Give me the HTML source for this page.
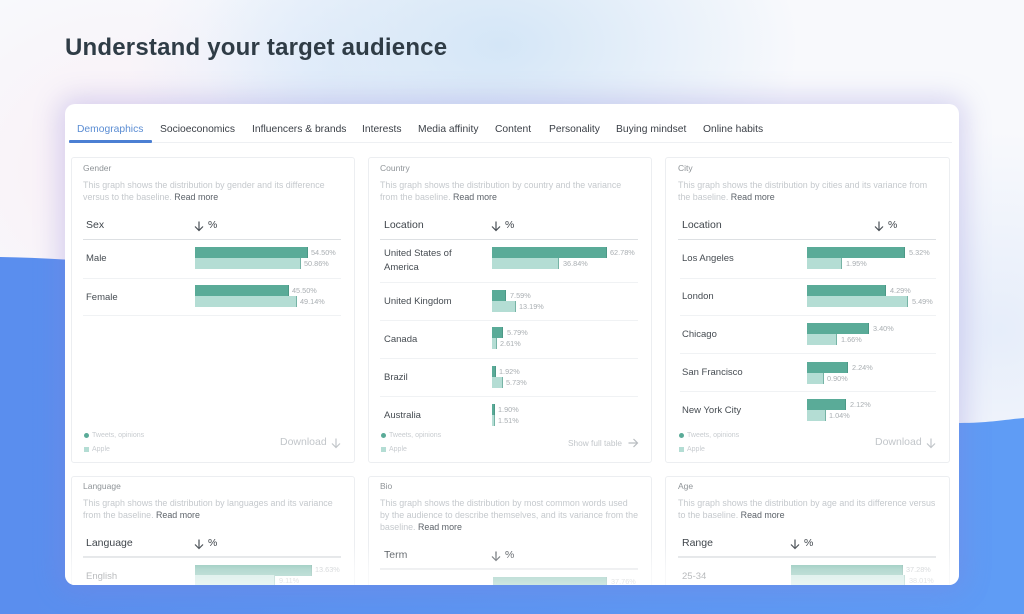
<!DOCTYPE html>
<html><head><meta charset="utf-8">
<style>
*{margin:0;padding:0;box-sizing:border-box}
html,body{width:1024px;height:614px;overflow:hidden}
body{position:relative;font-family:"Liberation Sans",sans-serif;background:#f8f9fc;
background-image:
radial-gradient(ellipse 300px 190px at 500px 45px,#d4e6f7 0%,rgba(212,230,247,0) 100%),
radial-gradient(ellipse 200px 150px at 330px 70px,rgba(225,235,250,0.8) 0%,rgba(225,235,250,0) 100%),
radial-gradient(ellipse 220px 200px at 120px 170px,rgba(250,236,244,0.8) 0%,rgba(250,236,244,0) 100%),
radial-gradient(ellipse 200px 200px at 1000px 330px,rgba(228,236,250,0.9) 0%,rgba(228,236,250,0) 100%);}
.t{position:absolute;white-space:nowrap;line-height:1}
.panel{position:absolute;left:65px;top:104px;width:894px;height:481px;border-radius:10px;background:#fff;box-shadow:0 0 26px 6px rgba(135,125,215,0.3)}
.clip{position:absolute;left:0;top:0;width:1024px;height:614px;overflow:hidden;clip-path:inset(104px 65px 29px 65px round 10px)}
.card{position:absolute;background:#fff;border:1px solid #eceef1;border-radius:3px}
.ct{font-size:8.5px;color:#8f9498}
.ds{font-size:8.9px;color:#c5c9cd;margin-top:-0.3px}
.rm{color:#5d636a}
.hd{font-size:10.5px;color:#3f454b;margin-top:1.5px}
.rl{font-size:9.5px;color:#464c52;margin-top:1px}
.hl{position:absolute;height:1.5px;background:#dde0e3}
.sp{position:absolute;height:1px;background:#f0f2f4}
.d{position:absolute;height:11px;background:#5aab98;border-right:1px solid #4c9886}
.l{position:absolute;height:10.5px;background:#b4ddd4;border-right:1.5px solid #76b3a5}
.v{font-size:7.3px;color:#a9aeb2}
.lg{font-size:7px;color:#c8ccd0}
.dot{position:absolute;width:5px;height:5px;border-radius:50%;background:#5aab98}
.sq{position:absolute;width:5px;height:5px;background:#b4ddd4}
.dl{font-size:10.5px;color:#c2c6ca;margin-top:0.5px}
.tab{font-size:10.3px;color:#3a3f46;top:124.5px}
.ar{margin-top:1.5px}
</style></head><body>
<svg width="1024" height="614" style="position:absolute;left:0;top:0">
<defs><linearGradient id="bg" x1="0" y1="0" x2="1" y2="0"><stop offset="0" stop-color="#5a8eee"/><stop offset="1" stop-color="#5f9cf5"/></linearGradient></defs>
<path d="M0,257 C350,262 700,420 960,423 C990,423 1010,419 1024,418 L1024,614 L0,614 Z" fill="url(#bg)"/>
</svg>

<div class="t" style="left:65px;top:36px;font-size:24px;font-weight:bold;color:#2f3c46;letter-spacing:0.2px">Understand your target audience</div>

<div class="panel"></div>
<div class="clip">
<!-- tabs -->
<div class="t tab" style="left:77px;color:#5b8dd3">Demographics</div>
<div class="t tab" style="left:160px">Socioeconomics</div>
<div class="t tab" style="left:252px">Influencers &amp; brands</div>
<div class="t tab" style="left:362px">Interests</div>
<div class="t tab" style="left:418px">Media affinity</div>
<div class="t tab" style="left:495px">Content</div>
<div class="t tab" style="left:549px">Personality</div>
<div class="t tab" style="left:616px">Buying mindset</div>
<div class="t tab" style="left:703px">Online habits</div>
<div style="position:absolute;left:69px;top:141.5px;width:883px;height:1px;background:#eef0f3"></div>
<div style="position:absolute;left:69px;top:140px;width:83px;height:2.5px;background:#4b7fd3;border-radius:1px"></div>

<!-- cards -->
<div class="card" style="left:71px;top:157px;width:284px;height:306px"></div>
<div class="card" style="left:368px;top:157px;width:284px;height:306px"></div>
<div class="card" style="left:665px;top:157px;width:285px;height:306px"></div>
<div class="card" style="left:71px;top:476px;width:284px;height:120px"></div>
<div class="card" style="left:368px;top:476px;width:284px;height:120px"></div>
<div class="card" style="left:665px;top:476px;width:285px;height:120px"></div>

<!-- ===== Gender ===== -->
<div class="t ct" style="left:83px;top:163.5px">Gender</div>
<div class="t ds" style="left:83px;top:180.8px">This graph shows the distribution by gender and its difference</div>
<div class="t ds" style="left:83px;top:192.8px">versus to the baseline. <span class="rm">Read more</span></div>
<div class="t hd" style="left:86px;top:218.4px">Sex</div>
<svg class="ar" style="position:absolute;left:194px;top:219px" width="10" height="11"><path d="M5,0.5 V9.5 M1,5.5 L5,9.5 L9,5.5" fill="none" stroke="#4a5056" stroke-width="1.2"/></svg>
<div class="t hd" style="left:208px;top:218.4px">%</div>
<div class="hl" style="left:83px;top:238.5px;width:258px"></div>
<div class="t rl" style="left:86px;top:253px">Male</div>
<div class="d" style="left:195px;top:247px;width:113px"></div>
<div class="l" style="left:195px;top:258px;width:106px"></div>
<div class="t v" style="left:311px;top:249px">54.50%</div>
<div class="t v" style="left:304px;top:260px">50.86%</div>
<div class="sp" style="left:83px;top:278px;width:258px"></div>
<div class="t rl" style="left:86px;top:291.5px">Female</div>
<div class="d" style="left:195px;top:285px;width:94px"></div>
<div class="l" style="left:195px;top:296px;width:102px"></div>
<div class="t v" style="left:292px;top:287px">45.50%</div>
<div class="t v" style="left:300px;top:298px">49.14%</div>
<div class="sp" style="left:83px;top:315px;width:258px"></div>
<div class="dot" style="left:84px;top:432.5px"></div>
<div class="t lg" style="left:92px;top:431.5px">Tweets, opinions</div>
<div class="sq" style="left:84px;top:446.5px"></div>
<div class="t lg" style="left:92px;top:445.5px">Apple</div>
<div class="t dl" style="left:280px;top:436.5px">Download</div>
<svg style="position:absolute;left:331px;top:437.5px" width="10" height="11"><path d="M5,0.5 V9.5 M1,5.5 L5,9.5 L9,5.5" fill="none" stroke="#c2c6ca" stroke-width="1.2"/></svg>

<!-- ===== Country ===== -->
<div class="t ct" style="left:380px;top:163.5px">Country</div>
<div class="t ds" style="left:380px;top:180.8px">This graph shows the distribution by country and the variance</div>
<div class="t ds" style="left:380px;top:192.8px">from the baseline. <span class="rm">Read more</span></div>
<div class="t hd" style="left:384px;top:218.4px">Location</div>
<svg class="ar" style="position:absolute;left:491px;top:219px" width="10" height="11"><path d="M5,0.5 V9.5 M1,5.5 L5,9.5 L9,5.5" fill="none" stroke="#4a5056" stroke-width="1.2"/></svg>
<div class="t hd" style="left:505px;top:218.4px">%</div>
<div class="hl" style="left:380px;top:238.5px;width:258px"></div>

<div class="t rl" style="left:384px;top:248px">United States of</div>
<div class="t rl" style="left:384px;top:262px">America</div>
<div class="d" style="left:492px;top:247px;width:115px"></div>
<div class="l" style="left:492px;top:258px;width:67px"></div>
<div class="t v" style="left:610px;top:249px">62.78%</div>
<div class="t v" style="left:563px;top:260px">36.84%</div>
<div class="sp" style="left:380px;top:282px;width:258px"></div>

<div class="t rl" style="left:384px;top:296px">United Kingdom</div>
<div class="d" style="left:492px;top:290px;width:14px"></div>
<div class="l" style="left:492px;top:301px;width:24px"></div>
<div class="t v" style="left:510px;top:291.5px">7.59%</div>
<div class="t v" style="left:519px;top:302.5px">13.19%</div>
<div class="sp" style="left:380px;top:320px;width:258px"></div>

<div class="t rl" style="left:384px;top:334px">Canada</div>
<div class="d" style="left:492px;top:327px;width:11px"></div>
<div class="l" style="left:492px;top:338px;width:5px"></div>
<div class="t v" style="left:507px;top:329px">5.79%</div>
<div class="t v" style="left:500px;top:340px">2.61%</div>
<div class="sp" style="left:380px;top:358px;width:258px"></div>

<div class="t rl" style="left:384px;top:372px">Brazil</div>
<div class="d" style="left:492px;top:366px;width:4px"></div>
<div class="l" style="left:492px;top:377px;width:11px"></div>
<div class="t v" style="left:499px;top:367.5px">1.92%</div>
<div class="t v" style="left:506px;top:378.5px">5.73%</div>
<div class="sp" style="left:380px;top:396px;width:258px"></div>

<div class="t rl" style="left:384px;top:410px">Australia</div>
<div class="d" style="left:492px;top:404px;width:3px"></div>
<div class="l" style="left:492px;top:415px;width:3px"></div>
<div class="t v" style="left:498px;top:405.5px">1.90%</div>
<div class="t v" style="left:498px;top:416.5px">1.51%</div>

<div class="dot" style="left:381px;top:432.5px"></div>
<div class="t lg" style="left:389px;top:431.5px">Tweets, opinions</div>
<div class="sq" style="left:381px;top:446.5px"></div>
<div class="t lg" style="left:389px;top:445.5px">Apple</div>
<div class="t" style="left:568px;top:438.5px;font-size:8.3px;color:#c2c6ca">Show full table</div>
<svg style="position:absolute;left:628px;top:437.5px" width="11" height="10"><path d="M0.5,5 H9.5 M5.5,1 L9.5,5 L5.5,9" fill="none" stroke="#b9bdc1" stroke-width="1.2"/></svg>

<!-- ===== City ===== -->
<div class="t ct" style="left:678px;top:163.5px">City</div>
<div class="t ds" style="left:678px;top:180.8px">This graph shows the distribution by cities and its variance from</div>
<div class="t ds" style="left:678px;top:192.8px">the baseline. <span class="rm">Read more</span></div>
<div class="t hd" style="left:682px;top:218.4px">Location</div>
<svg class="ar" style="position:absolute;left:874px;top:219px" width="10" height="11"><path d="M5,0.5 V9.5 M1,5.5 L5,9.5 L9,5.5" fill="none" stroke="#4a5056" stroke-width="1.2"/></svg>
<div class="t hd" style="left:888px;top:218.4px">%</div>
<div class="hl" style="left:678px;top:238.5px;width:258px"></div>

<div class="t rl" style="left:682px;top:253px">Los Angeles</div>
<div class="d" style="left:807px;top:247px;width:98px"></div>
<div class="l" style="left:807px;top:258px;width:35px"></div>
<div class="t v" style="left:909px;top:249px">5.32%</div>
<div class="t v" style="left:846px;top:260px">1.95%</div>
<div class="sp" style="left:680px;top:278px;width:256px"></div>

<div class="t rl" style="left:682px;top:291px">London</div>
<div class="d" style="left:807px;top:285px;width:79px"></div>
<div class="l" style="left:807px;top:296px;width:101px"></div>
<div class="t v" style="left:890px;top:287px">4.29%</div>
<div class="t v" style="left:912px;top:298px">5.49%</div>
<div class="sp" style="left:680px;top:315px;width:256px"></div>

<div class="t rl" style="left:682px;top:329px">Chicago</div>
<div class="d" style="left:807px;top:323px;width:62px"></div>
<div class="l" style="left:807px;top:334px;width:30px"></div>
<div class="t v" style="left:873px;top:325px">3.40%</div>
<div class="t v" style="left:841px;top:336px">1.66%</div>
<div class="sp" style="left:680px;top:353px;width:256px"></div>

<div class="t rl" style="left:682px;top:367px">San Francisco</div>
<div class="d" style="left:807px;top:362px;width:41px"></div>
<div class="l" style="left:807px;top:373px;width:17px"></div>
<div class="t v" style="left:852px;top:363.5px">2.24%</div>
<div class="t v" style="left:827px;top:374.5px">0.90%</div>
<div class="sp" style="left:680px;top:391px;width:256px"></div>

<div class="t rl" style="left:682px;top:405px">New York City</div>
<div class="d" style="left:807px;top:399px;width:39px"></div>
<div class="l" style="left:807px;top:410px;width:19px"></div>
<div class="t v" style="left:850px;top:401px">2.12%</div>
<div class="t v" style="left:829px;top:412px">1.04%</div>

<div class="dot" style="left:679px;top:432.5px"></div>
<div class="t lg" style="left:687px;top:431.5px">Tweets, opinions</div>
<div class="sq" style="left:679px;top:446.5px"></div>
<div class="t lg" style="left:687px;top:445.5px">Apple</div>
<div class="t dl" style="left:875px;top:436.5px">Download</div>
<svg style="position:absolute;left:926px;top:437.5px" width="10" height="11"><path d="M5,0.5 V9.5 M1,5.5 L5,9.5 L9,5.5" fill="none" stroke="#c2c6ca" stroke-width="1.2"/></svg>

<!-- ===== Language ===== -->
<div class="t ct" style="left:83px;top:481.5px">Language</div>
<div class="t ds" style="left:83px;top:498.8px">This graph shows the distribution by languages and its variance</div>
<div class="t ds" style="left:83px;top:510.8px">from the baseline. <span class="rm">Read more</span></div>
<div class="t hd" style="left:86px;top:536.4px">Language</div>
<svg class="ar" style="position:absolute;left:194px;top:537px" width="10" height="11"><path d="M5,0.5 V9.5 M1,5.5 L5,9.5 L9,5.5" fill="none" stroke="#4a5056" stroke-width="1.2"/></svg>
<div class="t hd" style="left:208px;top:536.4px">%</div>
<div class="hl" style="left:83px;top:556px;width:258px"></div>
<div class="t rl" style="left:86px;top:571px">English</div>
<div class="d" style="left:195px;top:565px;width:117px"></div>
<div class="l" style="left:195px;top:575px;width:80px"></div>
<div class="t v" style="left:315px;top:566px">13.63%</div>
<div class="t v" style="left:279px;top:577px">9.11%</div>

<!-- ===== Bio ===== -->
<div class="t ct" style="left:380px;top:481.5px">Bio</div>
<div class="t ds" style="left:380px;top:498.8px">This graph shows the distribution by most common words used</div>
<div class="t ds" style="left:380px;top:510.8px">by the audience to describe themselves, and its variance from the</div>
<div class="t ds" style="left:380px;top:522.8px">baseline. <span class="rm">Read more</span></div>
<div class="t hd" style="left:384px;top:548.4px">Term</div>
<svg class="ar" style="position:absolute;left:491px;top:549px" width="10" height="11"><path d="M5,0.5 V9.5 M1,5.5 L5,9.5 L9,5.5" fill="none" stroke="#4a5056" stroke-width="1.2"/></svg>
<div class="t hd" style="left:505px;top:548.4px">%</div>
<div class="hl" style="left:380px;top:568px;width:258px"></div>
<div class="d" style="left:493px;top:577px;width:114px"></div>
<div class="t v" style="left:611px;top:578px">37.76%</div>

<!-- ===== Age ===== -->
<div class="t ct" style="left:678px;top:481.5px">Age</div>
<div class="t ds" style="left:678px;top:498.8px">This graph shows the distribution by age and its difference versus</div>
<div class="t ds" style="left:678px;top:510.8px">to the baseline. <span class="rm">Read more</span></div>
<div class="t hd" style="left:682px;top:536.4px">Range</div>
<svg class="ar" style="position:absolute;left:790px;top:537px" width="10" height="11"><path d="M5,0.5 V9.5 M1,5.5 L5,9.5 L9,5.5" fill="none" stroke="#4a5056" stroke-width="1.2"/></svg>
<div class="t hd" style="left:804px;top:536.4px">%</div>
<div class="hl" style="left:678px;top:556px;width:258px"></div>
<div class="t rl" style="left:682px;top:571px">25-34</div>
<div class="d" style="left:791px;top:565px;width:112px"></div>
<div class="l" style="left:791px;top:575px;width:114px"></div>
<div class="t v" style="left:906px;top:566px">37.28%</div>
<div class="t v" style="left:909px;top:577px">38.01%</div>

<!-- bottom fade -->
<div style="position:absolute;left:65px;top:545px;width:894px;height:40px;background:linear-gradient(to bottom,rgba(255,255,255,0) 0%,rgba(255,255,255,0.55) 60%,rgba(255,255,255,0.7) 100%)"></div>
</div>
</body></html>
